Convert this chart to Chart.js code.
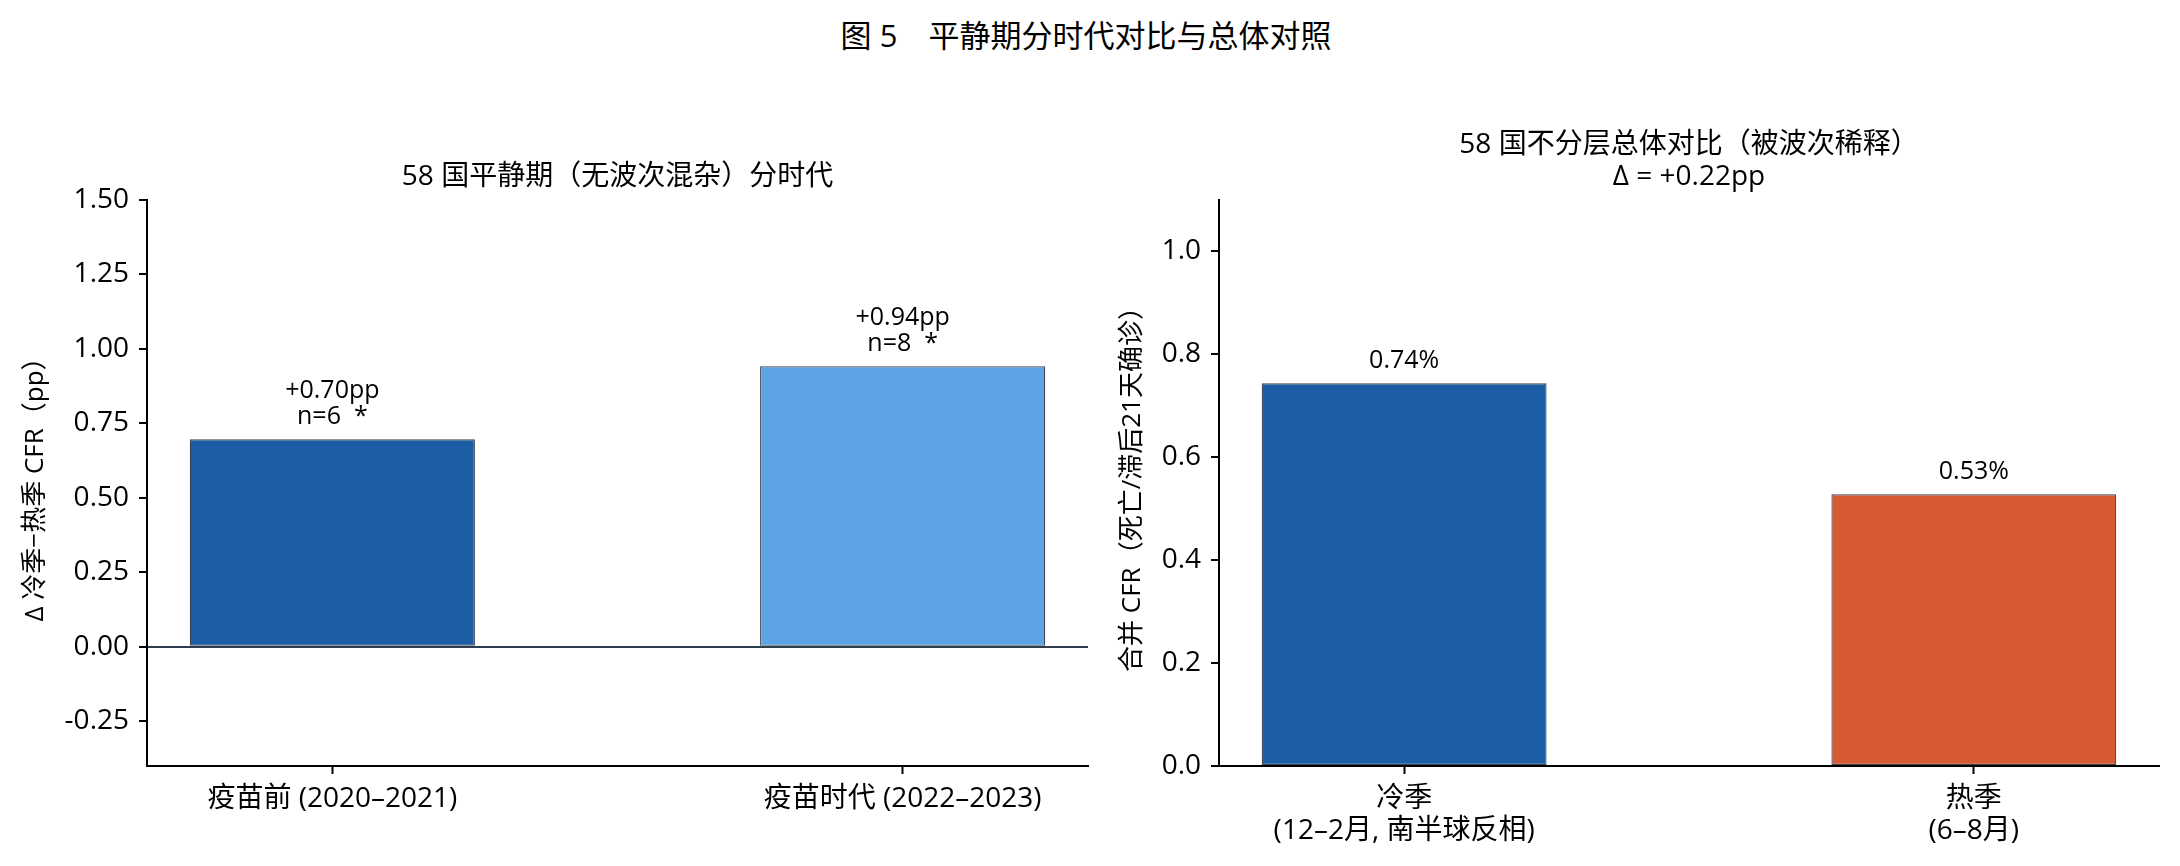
<!DOCTYPE html>
<html>
<head>
<meta charset="utf-8">
<script src="https://cdn.jsdelivr.net/npm/chart.js@4.4.1/dist/chart.umd.min.js"></script>
<style>
  html, body { margin: 0; padding: 0; background: #fff; }
  body { width: 2180px; height: 866px; position: relative; overflow: hidden; }
  #sup { position: absolute; left: 0; width: 2172px; top: 14px; text-align: center;
         font-family: "Open Sans", "Noto Sans CJK SC", sans-serif; font-size: 31px; color: #000; line-height: 42px; }
  #wrapL { position: absolute; left: 0; top: 0; width: 1100px; height: 866px; }
  #wrapR { position: absolute; left: 1100px; top: 0; width: 1080px; height: 866px; }
</style>
</head>
<body>
<div id="sup">图 5　平静期分时代对比与总体对照</div>
<div id="wrapL"><canvas id="cL"></canvas></div>
<div id="wrapR"><canvas id="cR"></canvas></div>
<script>
// ---- data ----
const leftCategories = ["疫苗前 (2020–2021)", "疫苗时代 (2022–2023)"];
const leftValues = [0.697, 0.942];          // Δ 冷季−热季 CFR (pp)
const leftN = [6, 8];
const leftSig = ["*", "*"];
const leftColors = ["#1b5ea6", "#5ea3e6"];
const leftTicks = [-0.25, 0, 0.25, 0.5, 0.75, 1.0, 1.25, 1.5];

const rightCategories = [["冷季", "(12–2月, 南半球反相)"], ["热季", "(6–8月)"]];
const rightValues = [0.744, 0.528];         // 合并 CFR (%)
const rightColors = ["#1b5ea6", "#d65a32"];
const rightTicks = [0, 0.2, 0.4, 0.6, 0.8, 1.0];

const xTicks = [0, 1];

const FONT = '"Open Sans", "Noto Sans CJK SC", sans-serif';

const leftNotes = leftValues.map((v, i) => ["+" + v.toFixed(2) + "pp", "n=" + leftN[i] + "  " + leftSig[i]]);
const rightNotes = rightValues.map(v => [v.toFixed(2) + "%"]);
const overallDelta = rightValues[0] - rightValues[1];

const barNotes = {
  id: 'barNotes',
  afterDatasetsDraw(chart, args, opts) {
    const ctx = chart.ctx;
    const meta = chart.getDatasetMeta(0);
    ctx.save();
    ctx.font = '25px ' + FONT;
    ctx.fillStyle = '#000';
    ctx.textAlign = 'center';
    ctx.textBaseline = 'alphabetic';
    meta.data.forEach((bar, i) => {
      const lines = opts.lines[i];
      const n = lines.length;
      lines.forEach((t, k) => {
        const y = bar.y - 15 - (n - 1 - k) * 26;
        ctx.fillText(t, bar.x, y);
      });
    });
    ctx.restore();
  }
};

function makeChart(id, cfg) {
  const data = cfg.values.map((v, i) => ({x: xTicks[i], y: v}));
  return new Chart(document.getElementById(id), {
    type: 'bar',
    data: {
      datasets: [{
        data: data,
        backgroundColor: cfg.colors,
        borderColor: '#3b4450',
        borderWidth: 1.2,
        borderSkipped: false,
        barPercentage: 0.5,
        categoryPercentage: 1.0
      }]
    },
    options: {
      responsive: true,
      maintainAspectRatio: false,
      animation: false,
      devicePixelRatio: 1,
      layout: { padding: cfg.padding },
      plugins: {
        legend: { display: false },
        tooltip: { enabled: false },
        title: {
          display: true,
          text: cfg.title,
          fullSize: false,
          color: '#000',
          font: { family: FONT, size: 28, weight: 'normal', lineHeight: 32 / 28 },
          padding: { top: 0, bottom: 7 }
        },
        barNotes: { lines: cfg.notes }
      },
      scales: {
        x: {
          type: 'linear',
          min: -0.325,
          max: 1.325,
          offset: false,
          afterFit: (s) => { s.height = 100; },
          afterBuildTicks: (axis) => { axis.ticks = xTicks.map(v => ({value: v})); },
          grid: { display: true, drawOnChartArea: false, drawTicks: true, tickLength: 8,
                  tickColor: '#000', tickWidth: 2, offset: false },
          border: { display: true, color: '#000', width: 2 },
          ticks: {
            autoSkip: false, maxRotation: 0, minRotation: 0,
            padding: 9, color: '#000',
            font: { family: FONT, size: 28, lineHeight: 32 / 28 },
            callback: (v) => cfg.categories[xTicks.indexOf(v)]
          }
        },
        y: {
          type: 'linear',
          min: cfg.yMin,
          max: cfg.yMax,
          afterFit: (s) => { s.width = cfg.yWidth; },
          afterBuildTicks: (axis) => { axis.ticks = cfg.yTicks.map(v => ({value: v})); },
          grid: {
            display: true, drawOnChartArea: cfg.zeroLine, drawTicks: true, tickLength: 8,
            tickColor: '#000', tickWidth: 2, lineWidth: 2,
            color: (c) => (c.tick && c.tick.value === 0) ? '#2c3e50' : 'rgba(0,0,0,0)'
          },
          border: { display: true, color: '#000', width: 2 },
          ticks: {
            padding: 10, color: '#000',
            font: { family: FONT, size: 28 },
            callback: (v) => v.toFixed(cfg.decimals)
          },
          title: {
            display: true, text: cfg.yTitle, color: '#000',
            font: { family: FONT, size: 26, lineHeight: 1.2 },
            padding: { top: cfg.yTitlePad, bottom: 0 }
          }
        }
      }
    },
    plugins: [barNotes]
  });
}

makeChart('cL', {
  values: leftValues, colors: leftColors, categories: leftCategories,
  title: "58 国平静期（无波次混杂）分时代",
  notes: leftNotes,
  padding: { left: 0, right: 12, top: 161, bottom: 0 },
  yMin: -0.4, yMax: 1.5, yTicks: leftTicks, decimals: 2, yWidth: 147,
  yTitle: "Δ 冷季−热季 CFR（pp）", yTitlePad: 20, zeroLine: true
});

makeChart('cR', {
  values: rightValues, colors: rightColors, categories: rightCategories,
  title: ["58 国不分层总体对比（被波次稀释）", "Δ = +" + overallDelta.toFixed(2) + "pp"],
  notes: rightNotes,
  padding: { left: 0, right: 21, top: 129, bottom: 0 },
  yMin: 0, yMax: 1.1, yTicks: rightTicks, decimals: 1, yWidth: 119,
  yTitle: "合并 CFR（死亡/滞后21天确诊）", yTitlePad: 17, zeroLine: false
});
</script>
</body>
</html>
